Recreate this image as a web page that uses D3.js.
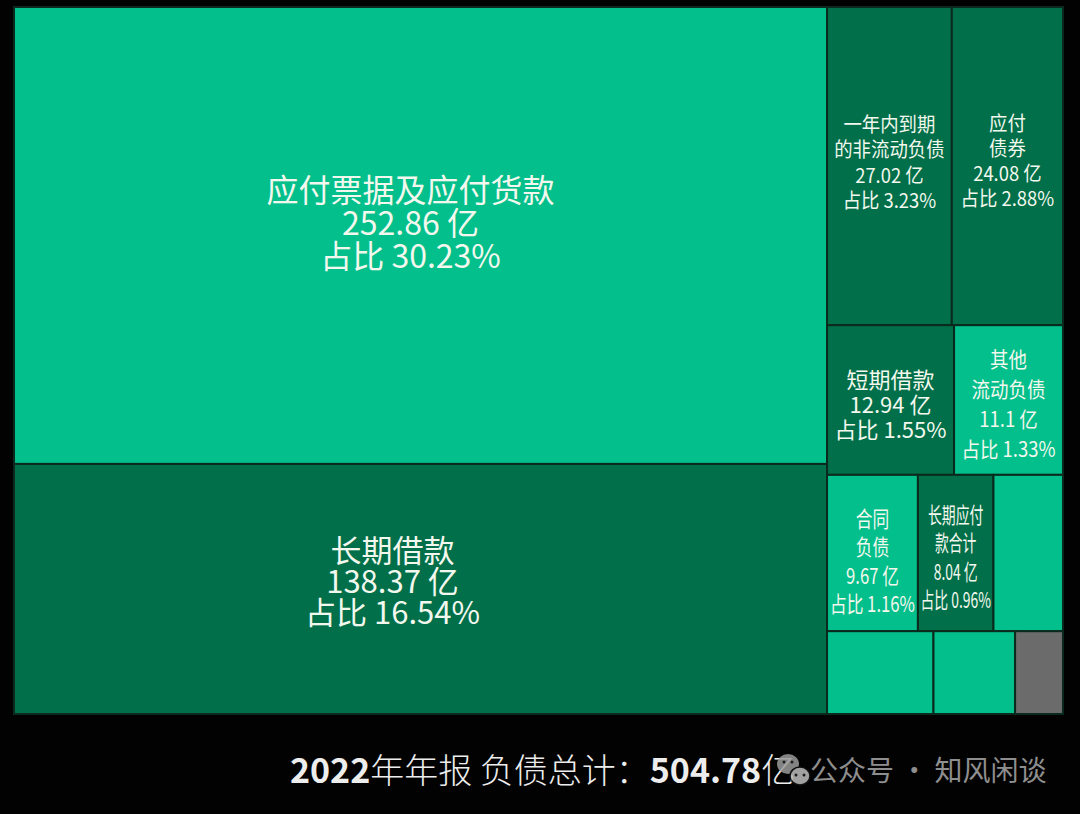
<!DOCTYPE html>
<html>
<head>
<meta charset="utf-8">
<script src="https://cdn.jsdelivr.net/npm/d3@7"></script>
<style>
  html, body { margin: 0; padding: 0; background: #000; }
  svg { display: block; }
</style>
</head>
<body>
<svg id="chart" width="1080" height="814"></svg>
<script>
// ---- data ----
const names = ["应付票据及应付货款", "长期借款", "一年内到期\n的非流动负债", "应付\n债券", "短期借款",
               "其他\n流动负债", "合同\n负债", "长期应付\n款合计", "其他项1", "其他项2", "其他项3", "其他项4"];
const values = [252.86, 138.37, 27.02, 24.08, 12.94, 11.1, 9.67, 8.04, 7.4, 6.0, 4.6, 2.7];
const shares = ["30.23%", "16.54%", "3.23%", "2.88%", "1.55%", "1.33%", "1.16%", "0.96%", null, null, null, null];
const showLabel = [true, true, true, true, true, true, true, true, false, false, false, false];
const tone = ["light", "dark", "dark", "dark", "dark", "light", "light", "dark", "light", "light", "light", "gray"];
const titleText = ["2022", "年年报 负债总计：", "504.78", "亿"];
const watermark = "公众号 · 知风闲谈";

// ---- styles (label typography per tile: font size, horizontal squeeze, line height, nudges) ----
const colors = { light: "#03BF8B", dark: "#016F49", gray: "#6B6B6B" };
const labelStyle = [
  { fs: 32, xs: 1.0,  lh: 33,   dx: -10, dy: -14 },
  { fs: 31, xs: 1.0,  lh: 31,   dx: -28, dy: -9 },
  { fs: 20, xs: 0.92, lh: 25.5, dx: 0,   dy: -4.5 },
  { fs: 20, xs: 0.92, lh: 25,   dx: 0,   dy: -5.5 },
  { fs: 22, xs: 1.0,  lh: 25,   dx: 0,   dy: 3 },
  { fs: 21, xs: 0.88, lh: 30,   dx: 0,   dy: 3 },
  { fs: 22, xs: 0.76, lh: 28.5, dx: 0,   dy: 7 },
  { fs: 22, xs: 0.63, lh: 28.5, dx: 0,   dy: 3 }
];

const svg = d3.select("#chart");
svg.append("rect").attr("width", 1080).attr("height", 814).attr("fill", "#020202");

const items = names.map((n, i) => ({ name: n, value: values[i], share: shares[i], show: showLabel[i], tone: tone[i], idx: i }));
const root = d3.hierarchy({ children: items }).sum(d => d.value || 0).sort((a, b) => b.value - a.value);

const X0 = 14, Y0 = 7, W = 1049, H = 707;
d3.treemap().tile(d3.treemapSquarify).size([W, H]).round(false)(root);

const g = svg.append("g").attr("transform", `translate(${X0},${Y0})`);
const cells = g.selectAll("g.cell").data(root.leaves()).join("g").attr("class", "cell");

cells.append("rect")
  .attr("x", d => d.x0).attr("y", d => d.y0)
  .attr("width", d => d.x1 - d.x0).attr("height", d => d.y1 - d.y0)
  .attr("fill", d => colors[d.data.tone])
  .attr("stroke", "#0a2a1d").attr("stroke-width", 2);

cells.filter(d => d.data.show).each(function(d) {
  const i = d.data.idx;
  const st = labelStyle[i];
  const lines = d.data.name.split("\n").concat([d.data.value + " 亿", "占比 " + d.data.share]);
  const cx = (d.x0 + d.x1) / 2 + st.dx, cy = (d.y0 + d.y1) / 2 + st.dy;
  const total = (lines.length - 1) * st.lh;
  const startY = cy - total / 2;
  const maxW = d.x1 - d.x0 - 2;
  const t = d3.select(this).append("g");
  lines.forEach((ln, k) => {
    const y = startY + k * st.lh;
    const txt = t.append("text")
      .attr("x", cx).attr("y", y)
      .attr("text-anchor", "middle").attr("dominant-baseline", "central")
      .attr("fill", "#F3F8EE")
      .attr("font-family", "'Noto Sans CJK SC', 'Noto Sans', sans-serif")
      .attr("font-size", st.fs)
      .text(ln);
    const w = txt.node().getComputedTextLength();
    const scale = Math.min(st.xs, maxW / w);
    txt.attr("transform", `translate(${cx},0) scale(${scale},1) translate(${-cx},0)`);
  });
});

// ---- bottom title ----
const title = svg.append("text")
  .attr("x", 290).attr("y", 783)
  .attr("fill", "#EDEDED")
  .attr("font-family", "'Noto Sans CJK SC', 'Noto Sans', sans-serif")
  .attr("font-size", 34);
title.append("tspan").attr("font-weight", "bold").text(titleText[0]);
title.append("tspan").attr("font-weight", "300").text(titleText[1]);
title.append("tspan").attr("font-weight", "bold").text(titleText[2]);
title.append("tspan").attr("font-weight", "300").text(titleText[3]);

// ---- watermark ----
const wm = svg.append("g").attr("opacity", 0.85);
wm.append("ellipse").attr("cx", 788).attr("cy", 764).attr("rx", 11).attr("ry", 10).attr("fill", "#9a9a9a");
wm.append("ellipse").attr("cx", 800).attr("cy", 776).attr("rx", 10).attr("ry", 9).attr("fill", "#bdbdbd").attr("stroke", "#111").attr("stroke-width", 1.5);
[[784, 762], [792, 762], [796, 775], [804, 775]].forEach(p => wm.append("circle").attr("cx", p[0]).attr("cy", p[1]).attr("r", 1.5).attr("fill", "#222"));
svg.append("text")
  .attr("x", 810).attr("y", 781)
  .attr("fill", "#8E8E8E")
  .attr("font-family", "'Noto Sans CJK SC', 'Noto Sans', sans-serif")
  .attr("font-size", 28)
  .text(watermark);
</script>
</body>
</html>
